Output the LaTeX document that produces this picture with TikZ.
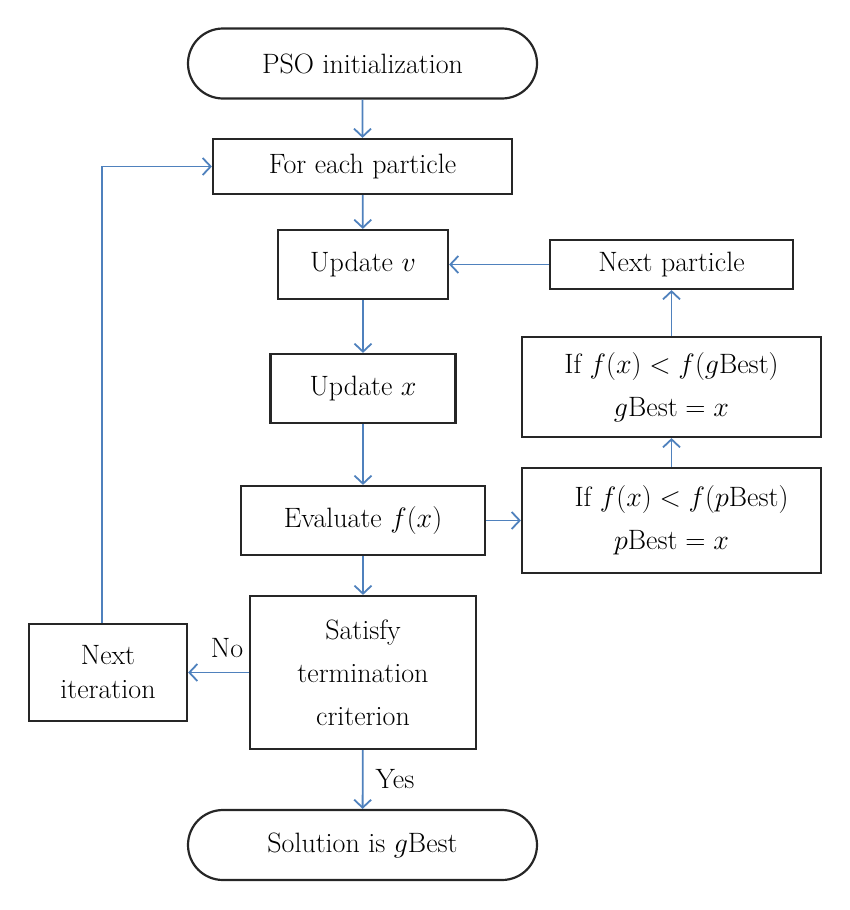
\RequirePackage{fix-cm}
\documentclass[tikz,border=0pt]{standalone}
\usetikzlibrary{arrows.meta,shapes.misc}
\definecolor{lineblue}{RGB}{79,129,189}
\begin{document}
\begin{tikzpicture}[x=1pt,y=-1pt,
  every node/.style={font=\fontsize{28}{43}\selectfont},
  blk/.style={draw=black!85,line width=2.2pt,inner sep=0pt,align=center},
  term/.style={blk,rounded rectangle},
  conn/.style={draw=lineblue,line width=1.8pt,-{Straight Barb[length=8pt,width=17pt,line width=1.8pt]}},
  lbl/.style={inner sep=0pt}]
\useasboundingbox (0,0) rectangle (850,910);
\node[term,minimum width=349,minimum height=70] (init) at (362.5,63.5) {PSO initialization};
\node[blk,minimum width=299,minimum height=55] (each) at (362.5,166.5) {For each particle};
\node[blk,minimum width=170,minimum height=69] (updv) at (363,264.5) {Update $v$};
\node[blk,minimum width=243,minimum height=49] (nextp) at (671.5,264.5) {Next particle};
\node[blk,minimum width=299,minimum height=100] (gbest) at (671.5,387) {If $f(x) < f(g\mathrm{Best})$\\$g\mathrm{Best}=x$};
\node[blk,minimum width=185,minimum height=69] (updx) at (363,388.5) {Update $x$};
\node[blk,minimum width=244,minimum height=69] (eval) at (363,520.5) {Evaluate $f(x)$};
\node[blk,minimum width=299,minimum height=105] (pbest) at (671.5,520.5) {\hspace*{20pt}If $f(x) < f(p\mathrm{Best})$\\$p\mathrm{Best}=x$};
\node[blk,minimum width=226,minimum height=153] (sat) at (363,672.5) {Satisfy\\termination\\criterion};
\node[blk,minimum width=158,minimum height=97,font=\fontsize{28}{34}\selectfont] (nexti) at (108,672.5) {Next\\iteration};
\node[term,minimum width=349,minimum height=70] (sol) at (362.5,845) {Solution is $g\mathrm{Best}$};
\node[lbl] (no) at (227,648) {No};
\node[lbl] (yes) at (395,779) {Yes};
\draw[conn] (init) -- (each);
\draw[conn] (each) -- (updv);
\draw[conn] (updv) -- (updx);
\draw[conn] (updx) -- (eval);
\draw[conn] (eval) -- (sat);
\draw[conn] (sat) -- (sol);
\draw[conn] (eval.east) -- (pbest.west);
\draw[conn] (pbest.north) -- (gbest.south);
\draw[conn] (gbest.north) -- (nextp.south);
\draw[conn] (nextp.west) -- (updv.east);
\draw[conn] (sat.west) -- (nexti.east);
\draw[conn] ([xshift=-6pt]nexti.north) |- (each.west);
\end{tikzpicture}
\end{document}
